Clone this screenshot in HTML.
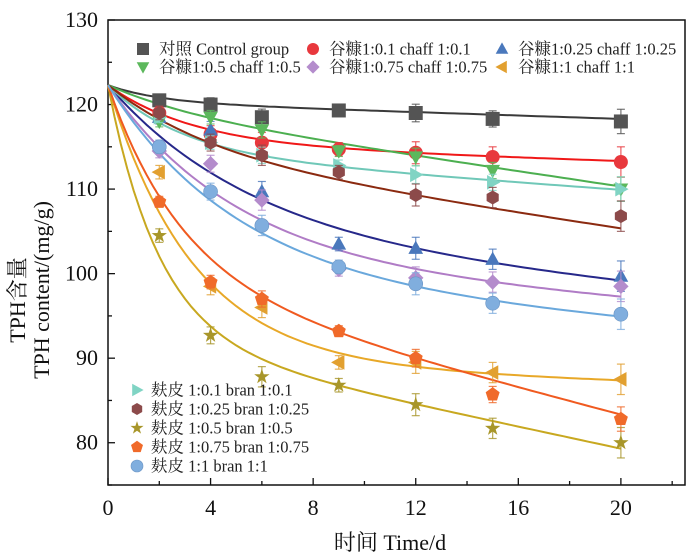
<!DOCTYPE html>
<html><head><meta charset="utf-8"><style>
html,body{margin:0;padding:0;background:#fff;}
svg{display:block;font-family:"Liberation Serif","Noto Serif CJK SC",serif;}
</style></head><body>
<svg id="chart" width="700" height="552" viewBox="0 0 700 552" xmlns="http://www.w3.org/2000/svg">
<g id="plot"></g>
</svg>
<script>
const times = [2, 4, 6, 9, 12, 15, 20];
const seriesNames = ["control","chaff01","chaff025","chaff05","chaff075","chaff1","bran01","bran025","bran05","bran075","bran1"];
const control = [120.5, 120.0, 118.5, 119.3, 119.0, 118.3, 118.0];
const chaff01 = [119.0, 116.5, 115.5, 114.7, 114.3, 113.8, 113.2];
const chaff025 = [118.5, 117.0, 109.7, 103.5, 103.0, 101.7, 99.7];
const chaff05 = [118.0, 118.5, 117.0, 114.5, 113.8, 112.2, 110.0];
const chaff075 = [114.5, 113.0, 108.7, 100.5, 99.5, 99.0, 98.5];
const chaff1 = [112.0, 98.5, 96.0, 89.5, 89.5, 88.3, 87.5];
const bran01 = [118.5, 115.5, 114.0, 112.8, 111.7, 110.8, 110.0];
const bran025 = [119.0, 115.5, 114.0, 112.0, 109.3, 109.0, 106.8];
const bran05 = [104.5, 92.7, 87.8, 86.8, 84.5, 81.7, 80.0];
const bran075 = [108.5, 99.0, 97.0, 93.2, 90.0, 85.7, 82.8];
const bran1 = [115.0, 109.7, 105.7, 100.8, 98.8, 96.5, 95.2];
const errs = [0.8, 1.0, 1.2, 0.8, 1.3, 1.2, 1.8];
// fit params: y = y0 - A*(1-exp(-k t)) - B*t
const fitA = [2, 7, 18, 3, 21, 33, 8, 8, 30, 23, 23];
const fitK = [0.5, 0.3, 0.18, 0.3, 0.2, 0.3, 0.35, 0.25, 0.5, 0.35, 0.2];
const fitB = [0.1, 0.1, 0.28, 0.45, 0.22, 0.1, 0.22, 0.45, 0.65, 0.8, 0.24];
const fitY0 = 122.3;
const xTicks = [0, 4, 8, 12, 16, 20];
const yTicks = [80, 90, 100, 110, 120, 130];

const L=108, R=685, T=20, B=485, XMAX=22.5, YMIN=75, YMAX=130;
const X = v => L + (v/XMAX)*(R-L);
const Y = v => B - (v-YMIN)/(YMAX-YMIN)*(B-T);
const NS="http://www.w3.org/2000/svg";
const g=document.getElementById('plot');
function mk(tag, attrs, parent){const e=document.createElementNS(NS,tag);for(const k in attrs)e.setAttribute(k,attrs[k]);(parent||g).appendChild(e);return e;}

const data=[control,chaff01,chaff025,chaff05,chaff075,chaff1,bran01,bran025,bran05,bran075,bran1];
const mColors=["#545454","#e8383d","#4a78bc","#5cb85c","#b48ccc","#e2a030","#80d4c4","#8c4a4a","#a8962a","#f06a2a","#80aede"];
const lColors=["#3a3a3a","#f01818","#26288a","#4caf50","#b07cc6","#e8a828","#70c8b8","#8b2a10","#c8a820","#f05a20","#6aa8dc"];
const shapes=["square","circle","up","down","diamond","left","right","hex","star","pent","sphere"];

function marker(shape,cx,cy,color,parent,s){
  s=s||7; let el;
  const poly=pts=>mk('polygon',{points:pts.map(p=>(cx+p[0]*s)+','+(cy+p[1]*s)).join(' '),fill:color},parent);
  if(shape==='square') el=mk('rect',{x:cx-s,y:cy-s,width:2*s,height:2*s,fill:color},parent);
  else if(shape==='circle') el=mk('circle',{cx:cx,cy:cy,r:s,fill:color},parent);
  else if(shape==='sphere') el=mk('circle',{cx:cx,cy:cy,r:s,fill:color,stroke:'#6a94c4','stroke-width':0.6},parent);
  else if(shape==='up') el=poly([[0,-1.1],[1.05,0.8],[-1.05,0.8]]);
  else if(shape==='down') el=poly([[0,1.1],[1.05,-0.8],[-1.05,-0.8]]);
  else if(shape==='left') el=poly([[-1.1,0],[0.8,-1.05],[0.8,1.05]]);
  else if(shape==='right') el=poly([[1.1,0],[-0.8,-1.05],[-0.8,1.05]]);
  else if(shape==='diamond') el=poly([[0,-1.1],[1.1,0],[0,1.1],[-1.1,0]]);
  else if(shape==='hex'){const p=[];for(let i=0;i<6;i++){const a=Math.PI/6+i*Math.PI/3;p.push([Math.cos(a),Math.sin(a)]);}el=poly(p);}
  else if(shape==='pent'){const p=[];for(let i=0;i<5;i++){const a=-Math.PI/2+i*2*Math.PI/5;p.push([1.05*Math.cos(a),1.05*Math.sin(a)]);}el=poly(p);}
  else if(shape==='star'){const p=[];for(let i=0;i<10;i++){const a=-Math.PI/2+i*Math.PI/5;const r=i%2?0.45:1.15;p.push([r*Math.cos(a),r*Math.sin(a)]);}el=poly(p);}
  return el;
}

const frame=mk('rect',{x:L,y:T,width:R-L,height:B-T,fill:'none',stroke:'#111','stroke-width':1.5});



for(let v=0; v<=22; v+=2){
  const major = xTicks.includes(v);
  const t=mk('line',{x1:X(v),x2:X(v),y1:B,y2:B-(major?7:4),stroke:'#111','stroke-width':1.3});
  
  
}
xTicks.forEach(v=>{
  const t=mk('text',{x:X(v),y:515,'text-anchor':'middle','font-size':22,fill:'#111'});
  t.textContent=v;
  
  
});
for(let v=75; v<=130; v+=5){
  const major=yTicks.includes(v);
  const t=mk('line',{x1:L,x2:L+(major?7:4),y1:Y(v),y2:Y(v),stroke:'#111','stroke-width':1.3});
  
  
}
yTicks.forEach(v=>{
  const t=mk('text',{x:98,y:Y(v)+7,'text-anchor':'end','font-size':22,fill:'#111'});
  t.textContent=v;
  
  
});
const xt=mk('text',{x:390,y:550,'text-anchor':'middle','font-size':22,fill:'#111'});
xt.textContent='时间 Time/d';


const yt1=mk('text',{x:0,y:0,'text-anchor':'middle','font-size':22,fill:'#111',transform:'translate(25,300) rotate(-90)'});
yt1.textContent='TPH含量';


const yt2=mk('text',{x:0,y:0,'text-anchor':'middle','font-size':22,fill:'#111',transform:'translate(49,290) rotate(-90)'});
yt2.textContent='TPH content/(mg/g)';



data.forEach((d,i)=>{
  let pts=[];
  for(let t=0;t<=20.001;t+=0.25){
    const y=fitY0-fitA[i]*(1-Math.exp(-fitK[i]*t))-fitB[i]*t;
    pts.push(X(t).toFixed(1)+','+Y(y).toFixed(1));
  }
  const p=mk('polyline',{points:pts.join(' '),fill:'none',stroke:lColors[i],'stroke-width':2});
  
  
});
data.forEach((d,i)=>{
  const grp=mk('g',{});
  
  
  d.forEach((v,j)=>{
    const x=X(times[j]); const e=errs[j]*(i%3===0?0.8:1);
    mk('line',{x1:x,x2:x,y1:Y(v+e),y2:Y(v-e),stroke:mColors[i],'stroke-width':1.2,opacity:0.8},grp);
    mk('line',{x1:x-4,x2:x+4,y1:Y(v+e),y2:Y(v+e),stroke:mColors[i],'stroke-width':1.2,opacity:0.8},grp);
    mk('line',{x1:x-4,x2:x+4,y1:Y(v-e),y2:Y(v-e),stroke:mColors[i],'stroke-width':1.2,opacity:0.8},grp);
    const m=marker(shapes[i],x,Y(v),mColors[i],grp);
    
    
  });
});

const legTop=[
 [0,143,49,'对照 Control group'],[1,313,49,'谷糠1:0.1 chaff 1:0.1'],[2,502,49,'谷糠1:0.25 chaff 1:0.25'],
 [3,143,67,'谷糠1:0.5 chaff 1:0.5'],[4,313,67,'谷糠1:0.75 chaff 1:0.75'],[5,502,67,'谷糠1:1 chaff 1:1']];
const legBot=[[6,137,390,'麸皮 1:0.1 bran 1:0.1'],[7,137,409,'麸皮 1:0.25 bran 1:0.25'],[8,137,428,'麸皮 1:0.5 bran 1:0.5'],[9,137,447,'麸皮 1:0.75 bran 1:0.75'],[10,137,466,'麸皮 1:1 bran 1:1']];
legTop.forEach(([i,x,y,txt])=>{
  const lg=mk('g',{});
  
  
  marker(shapes[i],x,y,mColors[i],lg,6);
  const t=mk('text',{x:x+16,y:y+5.5,'font-size':16.5,fill:'#222'},lg);
  t.textContent=txt;
});
legBot.forEach(([i,x,y,txt])=>{
  const lg=mk('g',{});
  
  
  marker(shapes[i],x,y,mColors[i],lg,6);
  const t=mk('text',{x:x+14,y:y+5.5,'font-size':16.5,fill:'#222'},lg);
  t.textContent=txt;
});
</script>
</body></html>
